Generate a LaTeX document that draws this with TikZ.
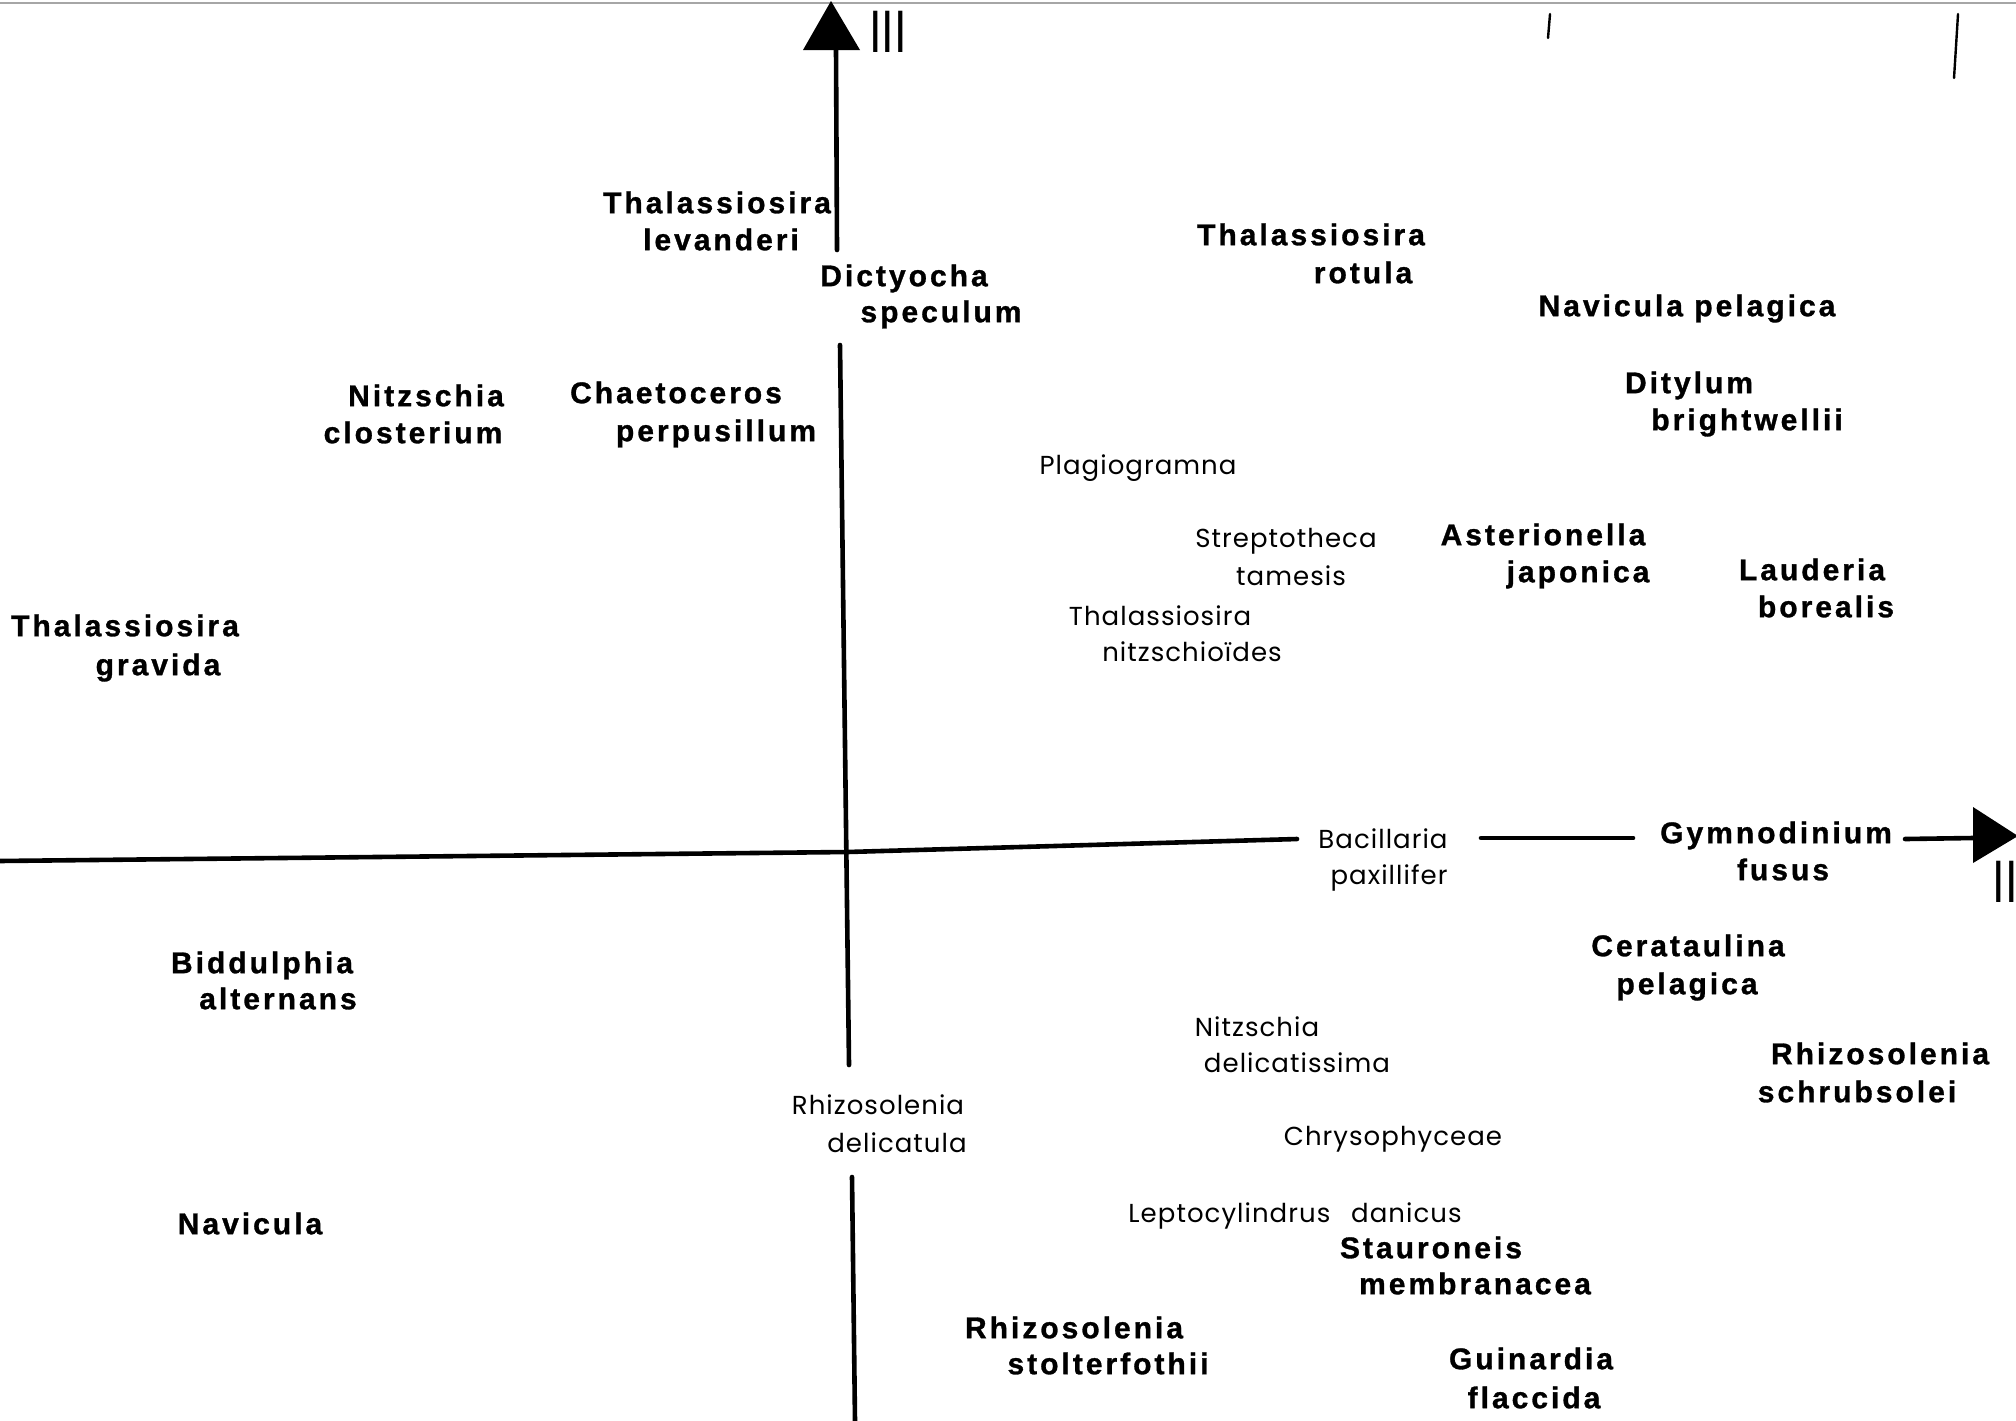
\documentclass[tikz,border=0pt]{standalone}
\usepackage{fontspec}
\newfontfamily\speciesbold[LetterSpace=10.0,FakeBold=1.0]{Liberation Sans}
\newfontfamily\specieslight[LetterSpace=4.0]{Poppins}
\newfontfamily\numeralfont{Liberation Sans}
\begin{document}
\begin{tikzpicture}[x=0.5pt,y=-0.5pt,
  axis/.style={line width=2.3pt,line cap=round},
  boldlab/.style={inner sep=0pt,anchor=center,text height=0.72em,text depth=0pt,yshift=-1.5pt,
    font=\speciesbold\bfseries\fontsize{15}{18}\selectfont},
  lightlab/.style={inner sep=0pt,anchor=center,text height=0.70em,text depth=0pt,yshift=-1.5pt,
    font=\specieslight\fontsize{13}{16}\selectfont},
  numeral/.style={inner sep=0pt,anchor=center,font=\numeralfont\fontsize{30}{30}\selectfont,xscale=0.75},
  specks/.style={line width=1.2pt,line cap=round}]
\useasboundingbox (0,0) rectangle (2016,1420);
\fill[white] (0,0) rectangle (2016,1420);

% faint rule along the upper edge and two stray pen marks
\draw[gray!70,line width=1pt] (0,3) -- (2016,3);
\draw[specks] (1550,14) -- (1548,38);
\draw[specks] (1958,14) -- (1954,78);

% ---------- axis III (vertical) ----------
\coordinate (vtip) at (831,1);
\coordinate (vA) at (836,50);
\coordinate (vB) at (837,250);
\coordinate (vC) at (840,345);
\coordinate (vD) at (849,1065);
\coordinate (vE) at (852,1177);
\coordinate (vF) at (855,1422);
\fill (vtip) -- (803,50) -- (860,50) -- cycle;
\draw[axis] (vA) -- (vB);
\draw[axis] (vC) -- (vD);
\draw[axis] (vE) -- (vF);
\node[numeral] (ax3) at (888,32) {III};

% ---------- axis II (horizontal) ----------
\coordinate (hL) at (-2,861);
\coordinate (hM) at (847,852);
\coordinate (hA) at (1297,839);
\coordinate (hB) at (1481,838);
\coordinate (hC) at (1633,838);
\coordinate (hD) at (1905,839);
\coordinate (hE) at (1973,838);
\coordinate (htip) at (2018,836);
\draw[axis] (hL) -- (hM) -- (hA);
\draw[axis] (hB) -- (hC);
\draw[axis] (hD) -- (hE);
\fill (htip) -- (1973,807) -- (1973,863) -- cycle;
\node[numeral] (ax2) at (2005,882) {II};

% ---------- species in bold ----------
\node[boldlab] (lev1) at (717,203) {Thalassiosira};
\node[boldlab] (lev2) at (721,240) {levanderi};
\node[boldlab] (dic1) at (904,276) {Dictyocha};
\node[boldlab] (dic2) at (941,312) {speculum};
\node[boldlab] (rot1) at (1311,235) {Thalassiosira};
\node[boldlab] (rot2) at (1363,273) {rotula};
\node[boldlab] (navp) at (1687,306) {Navicula pelagica};
\node[boldlab] (dit1) at (1689,383) {Ditylum};
\node[boldlab] (dit2) at (1747,420) {brightwellii};
\node[boldlab] (nit1) at (426,396) {Nitzschia};
\node[boldlab] (nit2) at (413,433) {closterium};
\node[boldlab] (cha1) at (676,393) {Chaetoceros};
\node[boldlab] (cha2) at (716,431) {perpusillum};
\node[boldlab] (ast1) at (1543,535) {Asterionella};
\node[boldlab] (ast2) at (1578,572) {japonica};
\node[boldlab] (lau1) at (1812,570) {Lauderia};
\node[boldlab] (lau2) at (1826,607) {borealis};
\node[boldlab] (gra1) at (125,626) {Thalassiosira};
\node[boldlab] (gra2) at (158,665) {gravida};
\node[boldlab] (gym1) at (1776,833) {Gymnodinium};
\node[boldlab] (gym2) at (1783,870) {fusus};
\node[boldlab] (cer1) at (1688,946) {Cerataulina};
\node[boldlab] (cer2) at (1687,984) {pelagica};
\node[boldlab] (bid1) at (262,963) {Biddulphia};
\node[boldlab] (bid2) at (278,999) {alternans};
\node[boldlab] (rhs1) at (1880,1054) {Rhizosolenia};
\node[boldlab] (rhs2) at (1857,1092) {schrubsolei};
\node[boldlab] (nav)  at (250,1224) {Navicula};
\node[boldlab] (sta1) at (1431,1248) {Stauroneis};
\node[boldlab] (sta2) at (1475,1284) {membranacea};
\node[boldlab] (rst1) at (1074,1328) {Rhizosolenia};
\node[boldlab] (rst2) at (1108,1364) {stolterfothii};
\node[boldlab] (gui1) at (1531,1359) {Guinardia};
\node[boldlab] (gui2) at (1534,1398) {flaccida};

% ---------- species in light type ----------
\node[lightlab] (pla)  at (1138,464) {Plagiogramna};
\node[lightlab] (str1) at (1286,537) {Streptotheca};
\node[lightlab] (str2) at (1291,575) {tamesis};
\node[lightlab] (tni1) at (1160,615) {Thalassiosira};
\node[lightlab] (tni2) at (1192,651) {nitzschioïdes};
\node[lightlab] (bac1) at (1383,838) {Bacillaria};
\node[lightlab] (bac2) at (1389,874) {paxillifer};
\node[lightlab] (nde1) at (1257,1026) {Nitzschia};
\node[lightlab] (nde2) at (1297,1062) {delicatissima};
\node[lightlab] (rde1) at (878,1104) {Rhizosolenia};
\node[lightlab] (rde2) at (897,1142) {delicatula};
\node[lightlab] (chr)  at (1393,1135) {Chrysophyceae};
\node[lightlab] (lep)  at (1295,1212) {Leptocylindrus\hspace{0.8em}danicus};
\end{tikzpicture}
\end{document}
